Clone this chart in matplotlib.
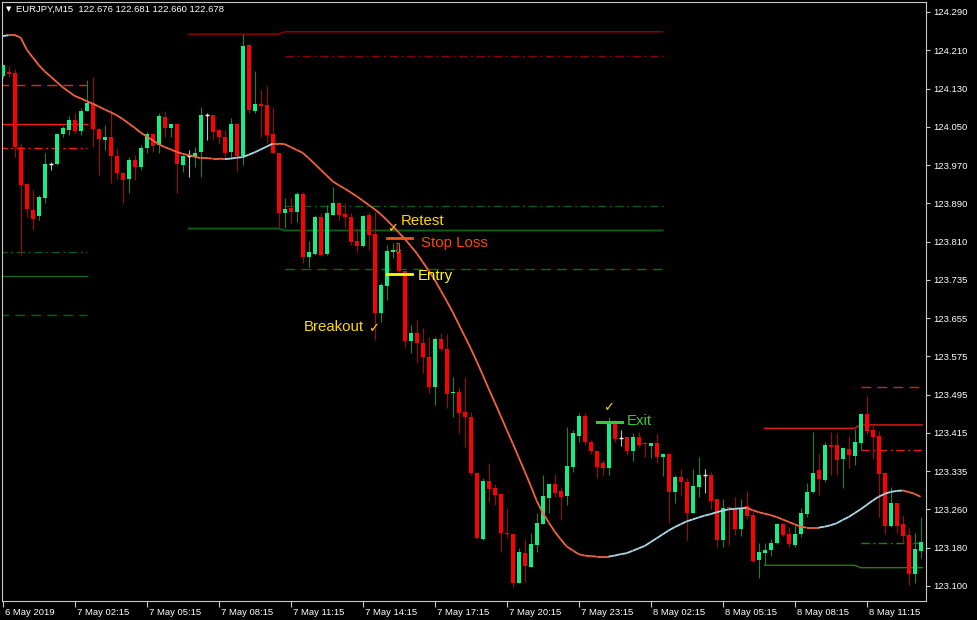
import matplotlib
matplotlib.use("Agg")
import matplotlib.pyplot as plt
import numpy as np
from matplotlib.collections import LineCollection
from matplotlib.transforms import ScaledTranslation

plt.rcParams['font.family'] = ['Liberation Sans', 'DejaVu Sans']

# EURJPY M15 candles, 6 May 23:15 -> 8 May 13:30
opens = [124.157, 124.166, 124.164, 124.010, 123.934, 123.880, 123.867, 123.905, 123.975, 123.975,
         124.037, 124.046, 124.066, 124.043, 124.085, 124.099, 124.048, 124.025, 124.031, 123.992,
         123.956, 123.944, 123.983, 123.969, 124.008, 124.037, 124.014, 124.072, 124.050, 124.058,
         123.973, 123.992, 123.990, 124.000, 124.077, 124.077, 124.046, 124.031, 124.000, 124.058,
         123.992, 124.222, 124.085, 124.099, 124.097, 124.037, 123.998, 123.873, 123.884, 123.875,
         123.913, 123.782, 123.788, 123.865, 123.788, 123.869, 123.894, 123.871, 123.865, 123.815,
         123.805, 123.869, 123.830, 123.666, 123.722, 123.793, 123.793, 123.753, 123.608, 123.625,
         123.604, 123.575, 123.513, 123.612, 123.591, 123.500, 123.502, 123.461, 123.450, 123.334,
         123.197, 123.318, 123.303, 123.291, 123.210, 123.208, 123.106, 123.169, 123.139, 123.185,
         123.229, 123.283, 123.312, 123.297, 123.287, 123.347, 123.411, 123.453, 123.399, 123.380,
         123.355, 123.345, 123.438, 123.407, 123.409, 123.380, 123.409, 123.397, 123.390, 123.397,
         123.368, 123.374, 123.295, 123.326, 123.316, 123.251, 123.305, 123.330, 123.330, 123.280,
         123.195, 123.264, 123.260, 123.218, 123.266, 123.247, 123.154, 123.169, 123.175, 123.189,
         123.229, 123.208, 123.185, 123.208, 123.249, 123.295, 123.341, 123.320, 123.392, 123.392,
         123.363, 123.384, 123.370, 123.397, 123.457, 123.424, 123.411, 123.334, 123.224, 123.272,
         123.229, 123.206, 123.125, 123.173]
highs = [124.182, 124.178, 124.172, 124.018, 123.936, 123.921, 123.911, 123.998, 123.979, 124.039,
         124.054, 124.075, 124.081, 124.091, 124.149, 124.155, 124.050, 124.056, 124.087, 124.008,
         123.958, 123.990, 123.994, 124.014, 124.041, 124.039, 124.081, 124.085, 124.058, 124.058,
         123.994, 124.004, 124.010, 124.093, 124.081, 124.077, 124.048, 124.046, 124.070, 124.058,
         124.244, 124.222, 124.168, 124.128, 124.137, 124.093, 123.998, 123.904, 123.904, 123.917,
         123.917, 123.815, 123.869, 123.873, 123.890, 123.927, 123.894, 123.894, 123.873, 123.842,
         123.869, 123.875, 123.875, 123.728, 123.807, 123.811, 123.807, 123.753, 123.641, 123.652,
         123.635, 123.616, 123.616, 123.625, 123.623, 123.533, 123.512, 123.533, 123.461, 123.336,
         123.324, 123.355, 123.312, 123.291, 123.262, 123.208, 123.179, 123.198, 123.210, 123.251,
         123.330, 123.314, 123.332, 123.305, 123.430, 123.424, 123.459, 123.459, 123.403, 123.380,
         123.361, 123.450, 123.444, 123.424, 123.409, 123.417, 123.419, 123.399, 123.397, 123.415,
         123.376, 123.374, 123.330, 123.343, 123.324, 123.343, 123.368, 123.343, 123.336, 123.280,
         123.280, 123.264, 123.285, 123.280, 123.297, 123.254, 123.189, 123.189, 123.198, 123.231,
         123.231, 123.222, 123.226, 123.262, 123.314, 123.419, 123.376, 123.399, 123.419, 123.417,
         123.388, 123.411, 123.426, 123.459, 123.494, 123.434, 123.421, 123.336, 123.305, 123.272,
         123.247, 123.220, 123.210, 123.243]
lows = [124.153, 124.155, 123.990, 123.786, 123.865, 123.838, 123.859, 123.894, 123.962, 123.973,
        124.031, 124.035, 124.039, 124.035, 124.085, 124.010, 123.952, 124.004, 123.936, 123.944,
        123.894, 123.915, 123.942, 123.962, 123.998, 124.000, 123.998, 124.031, 124.031, 123.915,
        123.958, 123.948, 123.969, 123.948, 124.025, 124.025, 124.016, 123.987, 123.987, 123.960,
        123.973, 124.081, 124.081, 124.031, 124.019, 123.998, 123.842, 123.842, 123.853, 123.855,
        123.770, 123.761, 123.786, 123.786, 123.786, 123.869, 123.859, 123.844, 123.807, 123.793,
        123.803, 123.797, 123.610, 123.647, 123.693, 123.780, 123.751, 123.596, 123.583, 123.562,
        123.542, 123.500, 123.475, 123.587, 123.469, 123.450, 123.417, 123.388, 123.330, 123.197,
        123.195, 123.274, 123.268, 123.171, 123.200, 123.098, 123.106, 123.108, 123.139, 123.171,
        123.229, 123.251, 123.285, 123.237, 123.268, 123.336, 123.399, 123.392, 123.374, 123.324,
        123.330, 123.330, 123.399, 123.390, 123.372, 123.359, 123.388, 123.368, 123.366, 123.355,
        123.328, 123.231, 123.272, 123.287, 123.195, 123.251, 123.285, 123.293, 123.260, 123.181,
        123.181, 123.185, 123.206, 123.204, 123.239, 123.150, 123.117, 123.144, 123.162, 123.187,
        123.204, 123.181, 123.181, 123.202, 123.243, 123.293, 123.289, 123.316, 123.330, 123.330,
        123.303, 123.345, 123.351, 123.382, 123.415, 123.363, 123.243, 123.208, 123.222, 123.210,
        123.189, 123.102, 123.106, 123.158]
closes = [124.180, 124.162, 124.010, 123.931, 123.882, 123.861, 123.907, 123.975, 123.975, 124.037,
          124.050, 124.066, 124.043, 124.085, 124.101, 124.048, 124.027, 124.031, 123.992, 123.956,
          123.942, 123.983, 123.969, 124.008, 124.037, 124.012, 124.074, 124.050, 124.058, 123.975,
          123.992, 123.992, 123.998, 124.077, 124.077, 124.041, 124.031, 123.998, 124.058, 123.992,
          124.220, 124.087, 124.099, 124.095, 124.035, 123.998, 123.873, 123.882, 123.875, 123.913,
          123.782, 123.793, 123.865, 123.786, 123.873, 123.894, 123.869, 123.865, 123.813, 123.805,
          123.867, 123.828, 123.666, 123.724, 123.795, 123.797, 123.753, 123.608, 123.625, 123.604,
          123.575, 123.513, 123.612, 123.591, 123.498, 123.502, 123.459, 123.450, 123.334, 123.200,
          123.318, 123.301, 123.289, 123.210, 123.208, 123.106, 123.171, 123.142, 123.187, 123.231,
          123.287, 123.312, 123.293, 123.285, 123.349, 123.417, 123.453, 123.399, 123.380, 123.347,
          123.345, 123.440, 123.405, 123.407, 123.380, 123.409, 123.392, 123.394, 123.397, 123.368,
          123.374, 123.295, 123.326, 123.316, 123.251, 123.307, 123.330, 123.330, 123.276, 123.195,
          123.262, 123.262, 123.218, 123.262, 123.245, 123.152, 123.171, 123.175, 123.189, 123.229,
          123.206, 123.187, 123.208, 123.251, 123.295, 123.334, 123.322, 123.392, 123.388, 123.361,
          123.386, 123.372, 123.399, 123.457, 123.422, 123.409, 123.332, 123.224, 123.272, 123.224,
          123.204, 123.125, 123.177, 123.191]

# smoothed moving average (one value per bar)
ma = [124.240, 124.242, 124.242, 124.237, 124.212, 124.196, 124.180, 124.167, 124.156, 124.145,
      124.134, 124.125, 124.116, 124.111, 124.105, 124.100, 124.094, 124.088, 124.082, 124.076,
      124.068, 124.059, 124.050, 124.040, 124.032, 124.024, 124.016, 124.010, 124.005, 124.000,
      123.996, 123.993, 123.990, 123.987, 123.987, 123.986, 123.986, 123.985, 123.986, 123.988,
      123.989, 123.994, 123.999, 124.005, 124.011, 124.017, 124.017, 124.016, 124.010, 124.004,
      123.998, 123.987, 123.975, 123.963, 123.951, 123.939, 123.931, 123.924, 123.916, 123.908,
      123.899, 123.890, 123.881, 123.871, 123.859, 123.846, 123.833, 123.820, 123.805, 123.790,
      123.772, 123.754, 123.735, 123.713, 123.691, 123.668, 123.643, 123.618, 123.593, 123.566,
      123.538, 123.509, 123.481, 123.453, 123.424, 123.396, 123.367, 123.338, 123.308, 123.277,
      123.252, 123.232, 123.213, 123.197, 123.182, 123.174, 123.166, 123.163, 123.162, 123.161,
      123.161, 123.161, 123.163, 123.166, 123.168, 123.173, 123.178, 123.183, 123.191, 123.199,
      123.207, 123.215, 123.222, 123.228, 123.234, 123.238, 123.242, 123.246, 123.249, 123.253,
      123.256, 123.259, 123.260, 123.261, 123.262, 123.257, 123.253, 123.250, 123.247, 123.243,
      123.238, 123.233, 123.228, 123.223, 123.221, 123.221, 123.221, 123.223, 123.226, 123.230,
      123.237, 123.243, 123.251, 123.259, 123.268, 123.277, 123.285, 123.291, 123.295, 123.297,
      123.298, 123.295, 123.291, 123.285]

price_labels = ['124.290', '124.210', '124.130', '124.050', '123.970', '123.890', '123.810',
                '123.735', '123.655', '123.575', '123.495', '123.415', '123.335', '123.260',
                '123.180', '123.100']
date_labels = ['6 May 2019', '7 May 02:15', '7 May 05:15', '7 May 08:15', '7 May 11:15',
               '7 May 14:15', '7 May 17:15', '7 May 20:15', '7 May 23:15', '8 May 02:15',
               '8 May 05:15', '8 May 08:15', '8 May 11:15']

# support / resistance levels: (first bar, last bar) and prices
left_bars = (-1, 14)
left_levels = [124.139, 124.058, 124.008, 123.793, 123.743, 123.662]
mid_bars = (31, 46, 47, 110)
mid_res = (124.244, 124.249)
mid_sup = (123.841, 123.837)
mid_extra = [124.199, 123.887, 123.757]
right_bars = (127, 142, 143, 153.3)
right_res = (123.427, 123.434)
right_sup = (123.143, 123.138)
right_extra = [123.512, 123.382, 123.189]

# trade annotations
sl_bars, sl_price = (64.0, 68.2), 123.822
entry_bars, entry_price = (64.0, 68.2), 123.746
exit_bars, exit_price = (99.0, 103.3), 123.440

n = len(opens)
idx = np.arange(n)
o = np.array(opens); h = np.array(highs); l = np.array(lows); c = np.array(closes)

fig = plt.figure(figsize=(9.77, 6.20), dpi=100, facecolor='black')
ax = fig.add_axes([1.5 / 977, 19 / 620, (926 - 1.5) / 977, (618 - 19) / 620])
ax.set_facecolor('black')

DASH = (0, (7, 4.5))
DASHDOT = (0, (6, 2.5, 1.5, 2.5))

# left block
lc_left = ['#FF1A1A', '#FF1A1A', '#FF1A1A', '#0E5A1E', '#0E6A22', '#0E5A1E']
ls_left = [DASH, '-', DASHDOT, DASHDOT, '-', DASH]
for p, col, ls in zip(left_levels, lc_left, ls_left):
    ax.plot(left_bars, [p, p], color=col, ls=ls, lw=1.0, zorder=2)

# middle block
a0, a1, b0, b1 = mid_bars
ax.plot([a0, a1, b0, b1], [mid_res[0], mid_res[0], mid_res[1], mid_res[1]], color='#8B0000', lw=1.1, zorder=2)
ax.plot([a0, a1, b0, b1], [mid_sup[0], mid_sup[0], mid_sup[1], mid_sup[1]], color='#0B5D14', lw=1.4, zorder=2)
for p, col, ls in zip(mid_extra, ['#8B0000', '#0B5D14', '#0B6A18'], [DASHDOT, DASHDOT, DASH]):
    ax.plot([b0, b1], [p, p], color=col, ls=ls, lw=1.0, zorder=2)

# right block
a0, a1, b0, b1 = right_bars
ax.plot([a0, a1, b0, b1], [right_res[0], right_res[0], right_res[1], right_res[1]], color='#E61919', lw=1.0, zorder=2)
ax.plot([a0, a1, b0, b1], [right_sup[0], right_sup[0], right_sup[1], right_sup[1]], color='#1E7D1E', lw=1.0, zorder=2)
for p, col, ls in zip(right_extra, ['#E61919', '#E61919', '#1E7D1E'], [DASH, DASHDOT, DASHDOT]):
    ax.plot([b0, b1], [p, p], color=col, ls=ls, lw=1.0, zorder=2)

# candles
bull = c > o
doji = c == o
wick_cols = np.where(doji, '#BEBEBE', np.where(bull, '#17803F', '#A00808'))
ax.vlines(idx, l, h, colors=wick_cols, lw=0.8, zorder=3)
body_bottom = np.minimum(o, c)
body_h = np.maximum(np.abs(c - o), 0.0025)
body_cols = np.where(bull, '#12EF86', '#FF0000')
mask = ~doji
ax.bar(idx[mask], body_h[mask], bottom=body_bottom[mask], width=0.7,
       color=body_cols[mask], edgecolor='none', zorder=3.5)
ax.hlines(o[doji], idx[doji] - 0.35, idx[doji] + 0.35, colors='white', lw=1.0, zorder=3.5)

# moving average coloured by slope
pts = np.column_stack([idx, ma])
segs = np.stack([pts[:-1], pts[1:]], axis=1)
ma_arr = np.array(ma)
seg_cols = np.where(np.diff(ma_arr) > 0, '#ADD8E6', '#F2643F')
ax.add_collection(LineCollection(segs, colors=seg_cols, lw=1.3, zorder=4))

# trade annotations
ax.plot(sl_bars, [sl_price, sl_price], color='#F2551E', lw=2.0, zorder=5)
ax.plot(entry_bars, [entry_price, entry_price], color='#FFFF00', lw=2.0, zorder=5)
ax.plot(exit_bars, [exit_price, exit_price], color='#32CD32', lw=2.2, zorder=5)

tkw = dict(va='center', ha='left', fontsize=10.8, zorder=6)
ax.text(66.4, 123.857, 'Retest', color='#FFD700', **tkw)
ax.text(69.7, 123.811, 'Stop Loss', color='#FF4500', **tkw)
ax.text(69.2, 123.743, 'Entry', color='#FFFF00', **tkw)
ax.text(50.2, 123.636, 'Breakout', color='#FFD700', **tkw)
ax.text(104.1, 123.443, 'Exit', color='#32CD32', **tkw)
ckw = dict(va='center', ha='center', fontsize=9.5, color='#FFD700', family=['DejaVu Sans'], zorder=6)
ax.text(65.0, 123.840, '\u2713', **ckw)
ax.text(61.9, 123.634, '\u2713', **ckw)
ax.text(101.05, 123.469, '\u2713', **ckw)
ax.text(65.9, 123.797, '\u21e9', va='center', ha='center', fontsize=9, color='#FFA500',
        family=['DejaVu Sans'], zorder=6)

# axes
ax.set_xlim(-0.2, 153.9)
ax.set_ylim(123.0689, 124.3107)
for sp in ax.spines.values():
    sp.set_color('#C8C8C8')
    sp.set_linewidth(0.8)

ax.yaxis.tick_right()
ax.set_yticks(np.linspace(124.290, 123.100, len(price_labels)))
ax.set_yticklabels(price_labels)
ax.tick_params(axis='y', direction='out', length=3, width=0.8, color='#C8C8C8',
               labelcolor='white', labelsize=6.8, pad=2.5)

ax.set_xticks(np.arange(0, 12 * len(date_labels), 12))
ax.set_xticklabels(date_labels)
ax.tick_params(axis='x', direction='out', length=4, width=0.8, color='#C8C8C8',
               labelcolor='white', labelsize=6.8, pad=1.2)
shift = ScaledTranslation(2 / 100, 0, fig.dpi_scale_trans)
for lab in ax.get_xticklabels():
    lab.set_ha('left')
    lab.set_transform(lab.get_transform() + shift)

# header
fig.text(8.5 / 977, 1 - 9 / 620, '\u25bc', color='white', fontsize=5, va='center', ha='center',
         family=['DejaVu Sans'])
fig.text(16 / 977, 1 - 9.5 / 620, 'EURJPY,M15  122.676 122.681 122.660 122.678',
         color='white', fontsize=6.8, va='center', ha='left')

fig.savefig('out.png', dpi=100, facecolor='black')
